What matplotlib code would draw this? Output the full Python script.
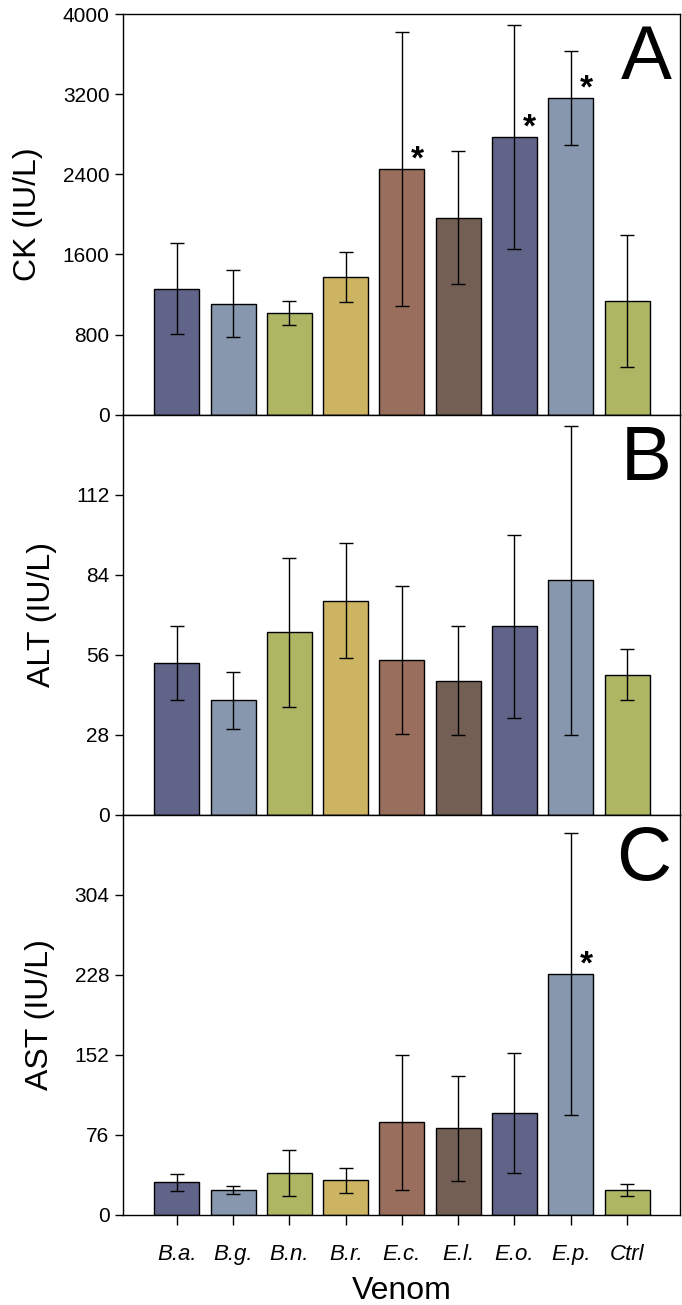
import matplotlib
matplotlib.use("Agg")
import matplotlib.pyplot as plt

plt.rcParams["font.family"] = ["Liberation Sans", "DejaVu Sans"]

venoms = ["B.a.", "B.g.", "B.n.", "B.r.", "E.c.", "E.l.", "E.o.", "E.p.", "Ctrl"]
bar_colors = ["#5f6488", "#8797ad", "#aeb563", "#cdb463", "#9a6e5d",
              "#735f54", "#5f6488", "#8797ad", "#aeb563"]

ck_mean = [1257, 1107, 1017, 1377, 2453, 1967, 2773, 3163, 1133]
ck_err = [455, 333, 117, 250, 1367, 663, 1123, 473, 657]
ck_sig = [False, False, False, False, True, False, True, True, False]

alt_mean = [53.0, 40.0, 63.8, 74.9, 54.1, 46.9, 65.9, 82.0, 49.0]
alt_err = [13, 10, 26, 20, 26, 19, 32, 54, 9]
alt_sig = [False] * 9

ast_mean = [31.0, 23.7, 40.1, 32.9, 87.8, 82.2, 96.7, 228.8, 23.7]
ast_err = [8, 4, 22, 12, 64, 50, 57, 134, 6]
ast_sig = [False, False, False, False, False, False, False, True, False]

panels = [
    ("CK (IU/L)", ck_mean, ck_err, ck_sig, 4000, [0, 800, 1600, 2400, 3200, 4000], "A"),
    ("ALT (IU/L)", alt_mean, alt_err, alt_sig, 140, [0, 28, 56, 84, 112], "B"),
    ("AST (IU/L)", ast_mean, ast_err, ast_sig, 380, [0, 76, 152, 228, 304], "C"),
]

fig, axes = plt.subplots(3, 1, figsize=(6.82, 13.05), dpi=100)
fig.subplots_adjust(left=0.180, right=0.997, top=0.989, bottom=0.069, hspace=0)

x = list(range(len(venoms)))
for i, (ax, (ylabel, mean, err, sig, ymax, ticks, letter)) in enumerate(zip(axes, panels)):
    ax.bar(x, mean, width=0.8, color=bar_colors, edgecolor="black", linewidth=1.0, zorder=2)
    ax.errorbar(x, mean, yerr=err, fmt="none", ecolor="black", elinewidth=1.0,
                capsize=5, capthick=1.0, zorder=3)
    for xi, m, s in zip(x, mean, sig):
        if s:
            ax.text(xi + 0.27, m + ymax * 0.022, "*", fontsize=24, fontweight="bold",
                    ha="center", va="center")
    ax.set_xlim(-0.96, 8.94)
    ax.set_ylim(0, ymax)
    ax.set_yticks(ticks)
    ax.tick_params(axis="y", direction="out", length=6, labelsize=15, width=1)
    ax.set_ylabel(ylabel, fontsize=23, labelpad=14)
    ax.text(0.985, 0.975, letter, transform=ax.transAxes, fontsize=55,
            ha="right", va="top")
    for sp in ax.spines.values():
        sp.set_linewidth(1.0)
    if i < 2:
        ax.set_xticks([])
    else:
        ax.set_xticks(x)
        ax.set_xticklabels(venoms, fontstyle="italic", fontsize=16)
        ax.tick_params(axis="x", direction="out", length=7, width=1, pad=14)
        ax.set_xlabel("Venom", fontsize=23, labelpad=8)

fig.savefig("out.png", dpi=100)
